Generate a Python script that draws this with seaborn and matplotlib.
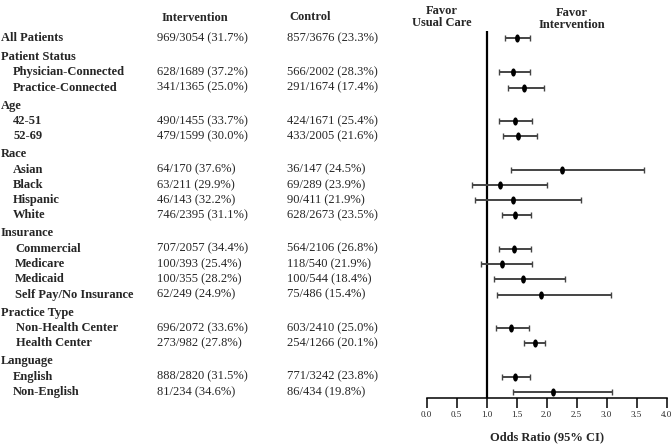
import numpy as np
import pandas as pd
import seaborn as sns
from matplotlib import pyplot as plt
from matplotlib.path import Path

# subgroup data
groups = ["Patient Status", "Age", "Race", "Insurance", "Practice Type", "Language"]
group_sizes = [2, 2, 4, 4, 2, 2]
labels = ["All Patients",
          "Physician-Connected", "Practice-Connected",
          "42-51", "52-69",
          "Asian", "Black", "Hispanic", "White",
          "Commercial", "Medicare", "Medicaid", "Self Pay/No Insurance",
          "Non-Health Center", "Health Center",
          "English", "Non-English"]
intervention = ["969/3054 (31.7%)",
                "628/1689 (37.2%)", "341/1365 (25.0%)",
                "490/1455 (33.7%)", "479/1599 (30.0%)",
                "64/170 (37.6%)", "63/211 (29.9%)", "46/143 (32.2%)", "746/2395 (31.1%)",
                "707/2057 (34.4%)", "100/393 (25.4%)", "100/355 (28.2%)", "62/249 (24.9%)",
                "696/2072 (33.6%)", "273/982 (27.8%)",
                "888/2820 (31.5%)", "81/234 (34.6%)"]
control = ["857/3676 (23.3%)",
           "566/2002 (28.3%)", "291/1674 (17.4%)",
           "424/1671 (25.4%)", "433/2005 (21.6%)",
           "36/147 (24.5%)", "69/289 (23.9%)", "90/411 (21.9%)", "628/2673 (23.5%)",
           "564/2106 (26.8%)", "118/540 (21.9%)", "100/544 (18.4%)", "75/486 (15.4%)",
           "603/2410 (25.0%)", "254/1266 (20.1%)",
           "771/3242 (23.8%)", "86/434 (19.8%)"]
odds = [1.50, 1.44, 1.63, 1.47, 1.53, 2.26, 1.23, 1.44, 1.48,
        1.46, 1.26, 1.61, 1.90, 1.41, 1.80, 1.47, 2.10]
ci_low = [1.30, 1.21, 1.35, 1.21, 1.28, 1.40, 0.76, 0.80, 1.25,
          1.21, 0.90, 1.12, 1.18, 1.16, 1.63, 1.26, 1.44]
ci_high = [1.72, 1.73, 1.95, 1.76, 1.84, 3.63, 2.01, 2.58, 1.74,
           1.74, 1.76, 2.31, 3.07, 1.70, 1.98, 1.72, 3.09]
xticks = [0.0, 0.5, 1.0, 1.5, 2.0, 2.5, 3.0, 3.5, 4.0]

sns.set_theme(style="white")
plt.rcParams['font.family'] = ['Liberation Serif', 'DejaVu Serif']

# layout in pixel units (top-down)
W, H = 672, 444
row_y = [38.0]
header_y = []
y = 38.0
for gi, n in enumerate(group_sizes):
    y += 19.0 if gi == 0 else 18.0
    header_y.append(y)
    for k in range(n):
        y += 15.3
        row_y.append(y)
indents = [13, 13, 13, 15, 16, 13]

df = pd.DataFrame({"label": labels, "or": odds, "lo": ci_low, "hi": ci_high, "y": row_y})

fig = plt.figure(figsize=(W / 100, H / 100), dpi=100)
bg = fig.add_axes([0, 0, 1, 1])
bg.set_xlim(0, W)
bg.set_ylim(H, 0)
bg.axis("off")

axis_y, top_y = 398, 31
x0, x1 = 426.7, 666.5
ax = fig.add_axes([x0 / W, (H - axis_y) / H, (x1 - x0) / W, (axis_y - top_y) / H])
ax.patch.set_alpha(0)
ax.set_xlim(0, 4)
ax.set_ylim(axis_y, top_y)

# text columns
fs = 9
bg.text(162, 18, "Intervention", fontsize=fs, fontweight="bold", va="center")
bg.text(289, 17.5, "Control", fontsize=fs, fontweight="bold", va="center")
bg.text(442, 5.5, "Favor\nUsual Care", fontsize=fs, fontweight="bold",
        ha="center", va="top", linespacing=1.0)
bg.text(572, 7, "Favor\nIntervention", fontsize=fs, fontweight="bold",
        ha="center", va="top", linespacing=1.0)

bg.text(1, row_y[0], labels[0], fontsize=fs, fontweight="bold", va="center")
idx = 1
for gi, g in enumerate(groups):
    bg.text(1, header_y[gi], g, fontsize=fs, fontweight="bold", va="center")
    for k in range(group_sizes[gi]):
        bg.text(indents[gi], row_y[idx], labels[idx], fontsize=fs,
                fontweight="bold", va="center")
        idx += 1
for i in range(len(labels)):
    bg.text(157, row_y[i], intervention[i], fontsize=fs, va="center")
    bg.text(287, row_y[i], control[i], fontsize=fs, va="center")

bg.text((x0 + x1) / 2, 437, "Odds Ratio (95% CI)", fontsize=fs,
        fontweight="bold", ha="center", va="center")

# forest plot
ax.axvline(1.0, color="black", lw=1.6, zorder=1)
ax.errorbar(df["or"], df["y"], xerr=[df["or"] - df["lo"], df["hi"] - df["or"]],
            fmt="none", ecolor="#444444", elinewidth=1.4, capsize=2.4, capthick=1.0,
            zorder=2)
t = np.linspace(0, 2 * np.pi, 40)
ellipse = Path(np.column_stack([0.6 * np.cos(t), np.sin(t)]), closed=True)
sns.scatterplot(data=df, x="or", y="y", ax=ax, marker=ellipse, s=34,
                color="black", edgecolor="black", linewidth=0, zorder=3)

ax.set_xticks(xticks)
ax.set_xticklabels([f"{v:.1f}" for v in xticks], fontsize=6.5)
ax.set_yticks([])
ax.set_xlabel("")
ax.set_ylabel("")
for side in ["top", "right", "left"]:
    ax.spines[side].set_visible(False)
ax.spines["bottom"].set_color("black")
ax.spines["bottom"].set_linewidth(1.1)
ax.tick_params(axis="x", direction="out", length=7, width=1.1, color="black",
               bottom=True, pad=2.5)

fig.savefig("out.png", dpi=100)
